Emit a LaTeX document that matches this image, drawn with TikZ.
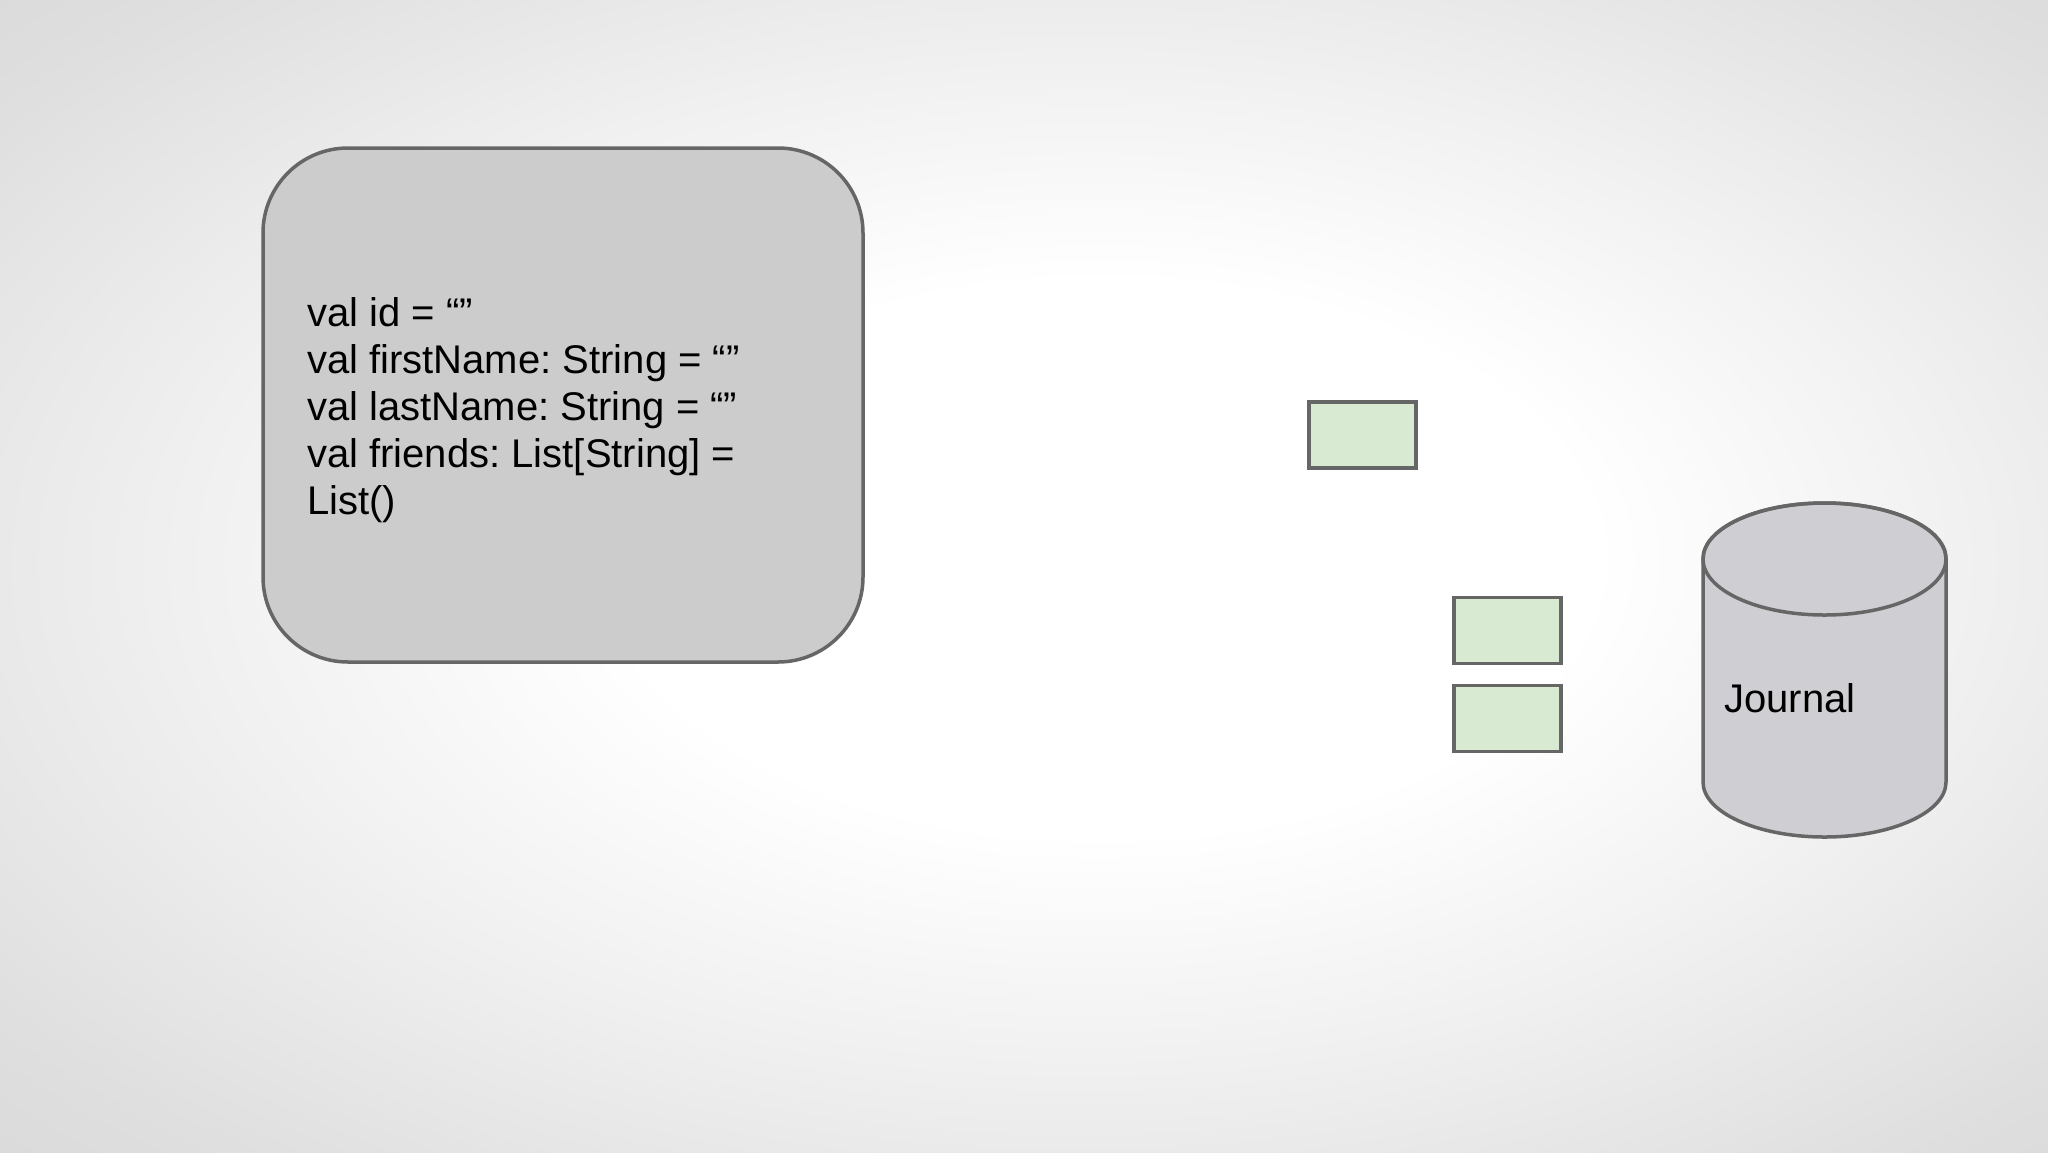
\documentclass[tikz,border=0pt]{standalone}
\usepackage{fontspec}
\setmainfont{Liberation Sans}
\frenchspacing
\definecolor{edge}{HTML}{666666}
\definecolor{boxfill}{HTML}{CCCCCC}
\definecolor{cylfill}{HTML}{CFCED2}
\definecolor{greenfill}{HTML}{D9EAD3}
\definecolor{bgA}{HTML}{F0F0F0}
\definecolor{bgB}{HTML}{DEDEDF}
\definecolor{bgC}{HTML}{D6D6D7}
\definecolor{bgD}{HTML}{CDCDCF}
\pgfdeclareradialshading{bgshade}{\pgfpoint{2.5bp}{1bp}}{color(0bp)=(white); color(12bp)=(white); color(22bp)=(bgA); color(33bp)=(bgB); color(41bp)=(bgC); color(52bp)=(bgD)}
\begin{document}
\begin{tikzpicture}[x=1pt,y=1pt,
  outline/.style={draw=edge, line width=3.5pt},
  msgbox/.style={outline, fill=greenfill, minimum width=107pt, minimum height=66pt, inner sep=0pt},
  statebox/.style={outline, fill=boxfill, rounded corners=85pt, minimum width=600pt, minimum height=514pt, inner sep=0pt},
  txt/.style={font=\fontsize{40}{47}\selectfont, text=black, inner sep=0pt}]
\useasboundingbox (0,0) rectangle (2048,-1152);
\shade[shading=bgshade] (0,0) rectangle (2048,-1152);
% state box
\node[statebox] (state) at (563,-405) {};
\node[txt, anchor=north west, align=left] (code) at (307,-297.5)
  {val id = “”\\val firstName: String = “”\\val lastName: String = “”\\val friends: List[String] =\\List()};
% message boxes
\node[msgbox] (m1) at (1362.5,-435) {};
\node[msgbox] (m2) at (1507.5,-630.5) {};
\node[msgbox] (m3) at (1507.5,-718.5) {};
% cylinder
\draw[outline, fill=cylfill] (1703,-559) -- (1703,-782)
  arc[start angle=180, end angle=360, x radius=121.5, y radius=55]
  -- (1946,-559)
  arc[start angle=0, end angle=180, x radius=121.5, y radius=56] -- cycle;
\draw[outline] (1824.5,-559) ellipse [x radius=121.5, y radius=56];
\node[txt, anchor=base west] (journal) at (1724,-712) {Journal};
\end{tikzpicture}
\end{document}
